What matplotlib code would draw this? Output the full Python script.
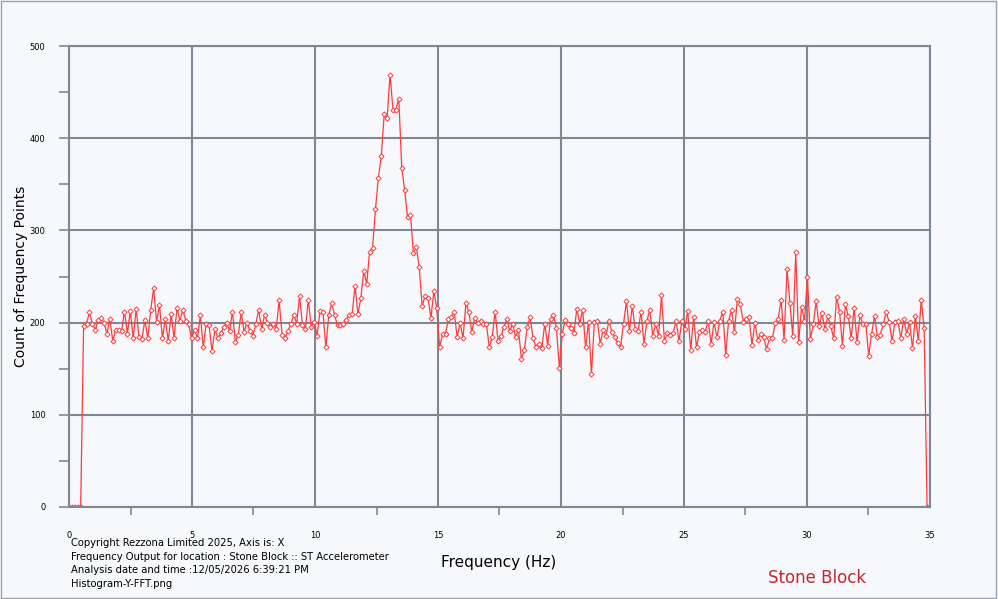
import numpy as np
import matplotlib.pyplot as plt

# counts, left to right
zeros_start = [0, 0, 0, 0, 0]
seg_a = [196, 199, 211, 199, 192, 203, 205, 200, 188, 204, 180, 192, 192, 191, 212,
         188, 213, 183, 215, 184, 182, 203, 183, 214, 237, 201, 219, 183, 204, 180,
         209, 183, 216, 202, 214, 202, 198, 183, 192, 183, 208, 173, 199, 197]
seg_b = [169, 193, 183, 189, 195, 200, 191, 212, 179, 187, 211, 190, 200, 191, 186,
         198, 214, 193, 208, 200, 195, 199, 193, 224, 187, 183, 191, 198, 208, 199,
         229, 197, 193, 225, 195, 201, 186, 213, 212, 173, 208]
seg_peak = [221, 208, 197, 197, 199, 203, 208, 209, 240, 209, 227, 256, 242, 277, 281,
            323, 357, 381, 426, 422, 469, 431, 431, 443, 368, 344, 314, 317, 275, 282,
            260, 218, 229, 227, 205, 234, 216, 173, 188, 188, 204, 206, 211, 184, 200]
seg_c = [183, 221, 211, 190, 205, 200, 202, 199, 199, 173, 184, 212, 180, 185, 195,
         204, 191, 199, 184, 192, 161, 170, 195, 206, 183, 173, 177, 172, 199, 175,
         204, 208, 194, 151, 188, 203, 198, 194, 189, 215, 199, 214, 173, 201, 144,
         201, 202, 177, 192]
seg_d = [186, 202, 190, 184, 178, 174, 199, 223, 191, 218, 193, 191, 212, 177, 202,
         214, 186, 198, 186, 230, 180, 189, 187, 189, 202, 180, 202, 193, 213, 170,
         206, 173, 190, 192, 190, 202, 177, 201, 184, 202, 212, 165, 202, 214, 190,
         226, 220, 201]
seg_e = [204, 206, 176, 200, 181, 188, 184, 171, 183, 183, 200, 204, 225, 181, 258,
         221, 185, 277, 179, 217, 202, 250, 182, 198, 223, 196, 210, 193, 207, 196,
         183, 228, 212, 175, 220, 207, 183, 216, 179, 208, 198, 199, 164, 188, 207,
         184, 187, 199, 211, 201, 180, 201, 202, 183, 204, 188, 201, 172, 207, 180,
         225, 194]
zeros_end = [0, 0]

counts = np.array(zeros_start + seg_a + seg_b + seg_peak + seg_c + seg_d + seg_e + zeros_end)
freqs = np.linspace(0, 35, len(counts))

info_lines = ["Copyright Rezzona Limited 2025, Axis is: X",
              "Frequency Output for location : Stone Block :: ST Accelerometer",
              "Analysis date and time :12/05/2026 6:39:21 PM",
              "Histogram-Y-FFT.png"]

fig = plt.figure(figsize=(9.98, 5.99), dpi=100, facecolor='#f7f8fc')
ax = fig.add_axes([69/998, 1-507/599, 861/998, 461/599])
ax.set_facecolor('#f7f8fc')

grid_c = '#7d8894'
ax.set_xlim(0, 35)
ax.set_ylim(0, 500)
ax.set_xticks(np.arange(0, 36, 5))
ax.set_xticks(np.arange(2.5, 35, 5), minor=True)
ax.set_yticks(np.arange(0, 501, 100))
ax.set_yticks(np.arange(50, 500, 100), minor=True)
ax.grid(True, which='major', color=grid_c, linewidth=1.5)
ax.set_axisbelow(True)
for s in ax.spines.values():
    s.set_color(grid_c)
    s.set_linewidth(1.5)
ax.tick_params(which='both', colors=grid_c, labelcolor='black', labelsize=6, width=1.2)
ax.tick_params(axis='x', which='major', length=0, pad=17)
ax.tick_params(axis='x', which='minor', length=6)
ax.tick_params(axis='y', which='both', length=7, pad=10)

ax.plot(freqs, counts, color='#ff3b3b', linewidth=0.9, marker='D', markersize=2.6,
        markerfacecolor='white', markeredgecolor='#ff3b3b', markeredgewidth=0.7)

fig.text(21/998, 1-276/599, 'Count of Frequency Points', rotation=90,
         ha='center', va='center', fontsize=10)
fig.text(0.5, 1-562/599, 'Frequency (Hz)', ha='center', va='center', fontsize=11)
for i, line in enumerate(info_lines):
    fig.text(71/998, 1-(543 + i*13.6)/599, line, fontsize=7.2, va='center')
fig.text(817/998, 1-578/599, 'Stone Block', ha='center', va='center', fontsize=12, color='#c4262b')

fig.patches.append(plt.Rectangle((0.001, 0.002), 0.997, 0.996, transform=fig.transFigure,
                                 fill=False, edgecolor='#9aa3ad', linewidth=1))

fig.savefig('out.png', dpi=100, facecolor=fig.get_facecolor())
